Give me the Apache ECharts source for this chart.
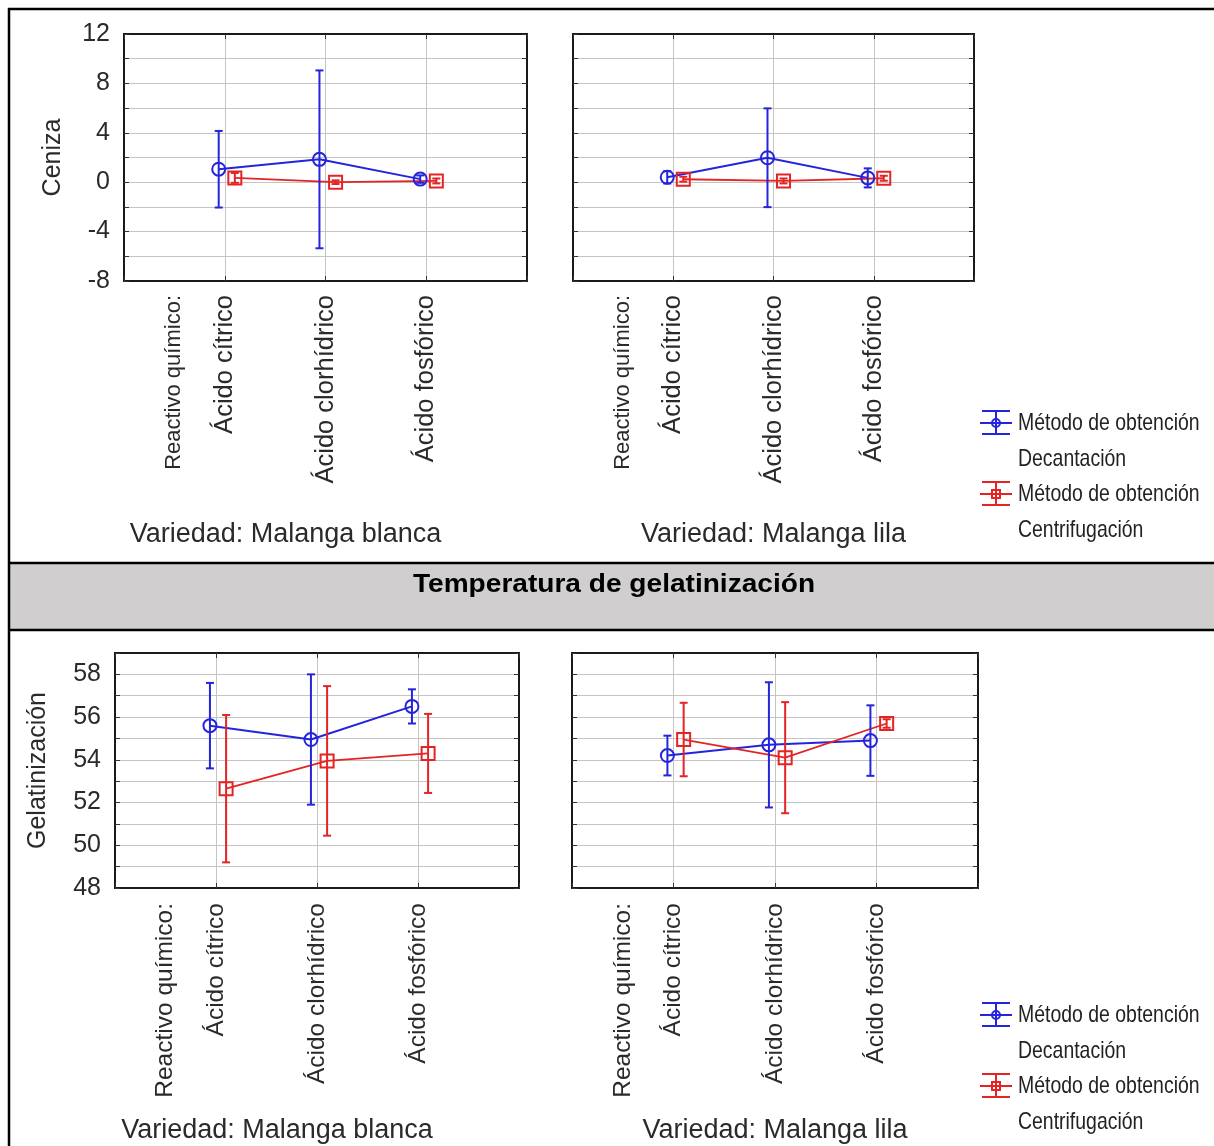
<!DOCTYPE html>
<html><head><meta charset="utf-8">
<script src="https://cdn.jsdelivr.net/npm/echarts@6/dist/echarts.min.js"></script>
<style>html,body{margin:0;padding:0;background:#fff}#c{width:1214px;height:1146px}</style>
</head><body><div id="c"></div>
<script>
// ---------- data ----------
const reactivos = ['Ácido cítrico', 'Ácido clorhídrico', 'Ácido fosfórico'];
const factorLabel = 'Reactivo químico:';
const variedades = ['Variedad: Malanga blanca', 'Variedad: Malanga lila'];
const metodoTitulo = 'Método de obtención';
const metodos = ['Decantación', 'Centrifugación'];
const yNames = ['Ceniza', 'Gelatinización'];
const sectionTitle = 'Temperatura de gelatinización';

const cenizaTickLabels = [-8, -4, 0, 4, 8, 12];
const gelTickLabels = [48, 50, 52, 54, 56, 58];

// Ceniza
const cenizaBlancaDecMean = [1.05, 1.85, 0.25];
const cenizaBlancaDecErr  = [3.1, 7.2, 0.3];
const cenizaBlancaCenMean = [0.35, 0.0, 0.1];
const cenizaBlancaCenErr  = [0.4, 0.15, 0.2];
const cenizaLilaDecMean = [0.4, 1.98, 0.35];
const cenizaLilaDecErr  = [0.5, 4.0, 0.77];
const cenizaLilaCenMean = [0.24, 0.1, 0.32];
const cenizaLilaCenErr  = [0.2, 0.2, 0.2];
// Gelatinización
const gelBlancaDecMean = [55.6, 54.95, 56.5];
const gelBlancaDecErr  = [2.0, 3.05, 0.8];
const gelBlancaCenMean = [52.65, 53.95, 54.3];
const gelBlancaCenErr  = [3.45, 3.5, 1.85];
const gelLilaDecMean = [54.2, 54.7, 54.9];
const gelLilaDecErr  = [0.93, 2.93, 1.65];
const gelLilaCenMean = [54.95, 54.1, 55.7];
const gelLilaCenErr  = [1.72, 2.6, 0.2];

// ---------- style ----------
const BLUE = '#2424dc';
const RED = '#e42424';
const FONT = "Liberation Sans";
const OFF_DEC = -0.06, OFF_CEN = 0.1;

const panels = [
  {grid: {left: 124, top: 34, width: 403, height: 247}, y: {min: -8, max: 12, interval: 2}, ticks: cenizaTickLabels,
   showY: true, yName: yNames[0], yGap: 58, xName: variedades[0], xGap: 240, xPad: 80, rSize: 22, aSize: 25.5, xMargin: 14,
   dec: [cenizaBlancaDecMean, cenizaBlancaDecErr], cen: [cenizaBlancaCenMean, cenizaBlancaCenErr]},
  {grid: {left: 573, top: 34, width: 401, height: 247}, y: {min: -8, max: 12, interval: 2}, ticks: cenizaTickLabels,
   showY: false, yName: '', yGap: 0, xName: variedades[1], xGap: 240, xPad: 0, rSize: 22, aSize: 25.5, xMargin: 14,
   dec: [cenizaLilaDecMean, cenizaLilaDecErr], cen: [cenizaLilaCenMean, cenizaLilaCenErr]},
  {grid: {left: 115, top: 653, width: 404, height: 235}, y: {min: 48, max: 59, interval: 1}, ticks: gelTickLabels,
   showY: true, yName: yNames[1], yGap: 64, xName: variedades[0], xGap: 229, xPad: 80, rSize: 24.5, aSize: 24.5, xMargin: 15,
   dec: [gelBlancaDecMean, gelBlancaDecErr], cen: [gelBlancaCenMean, gelBlancaCenErr]},
  {grid: {left: 572, top: 653, width: 406, height: 235}, y: {min: 48, max: 59, interval: 1}, ticks: gelTickLabels,
   showY: false, yName: '', yGap: 0, xName: variedades[1], xGap: 229, xPad: 0, rSize: 24.5, aSize: 24.5, xMargin: 15,
   dec: [gelLilaDecMean, gelLilaDecErr], cen: [gelLilaCenMean, gelLilaCenErr]}
];

function errRenderer(color) {
  return function (params, api) {
    const x = api.value(0), lo = api.value(1), hi = api.value(2);
    const p1 = api.coord([x, hi]), p2 = api.coord([x, lo]);
    const hw = 4;
    const style = {stroke: color, lineWidth: 2};
    return {type: 'group', children: [
      {type: 'line', shape: {x1: p1[0], y1: p1[1], x2: p2[0], y2: p2[1]}, style: style},
      {type: 'line', shape: {x1: p1[0] - hw, y1: p1[1], x2: p1[0] + hw, y2: p1[1]}, style: style},
      {type: 'line', shape: {x1: p2[0] - hw, y1: p2[1], x2: p2[0] + hw, y2: p2[1]}, style: style}
    ]};
  };
}

const grids = [], xAxes = [], yAxes = [], series = [];
const lineAx = {show: true, onZero: false, lineStyle: {color: '#1a1a1a', width: 2}};
panels.forEach((p, i) => {
  grids.push(Object.assign({show: true, borderColor: '#1a1a1a', borderWidth: 2, backgroundColor: '#fff'}, p.grid));
  const xi = xAxes.length;
  xAxes.push({
    type: 'value', gridIndex: i, min: 0, max: 4, interval: 1, position: 'bottom',
    axisLine: lineAx,
    axisTick: {show: true, inside: true, length: 5, lineStyle: {color: '#333'}},
    splitLine: {show: true, lineStyle: {color: '#c4c4c4', width: 1}},
    axisLabel: {
      show: true, rotate: 90, margin: p.xMargin, color: '#2a2a2a', fontFamily: FONT,
      customValues: [0.5, 1, 2, 3],
      formatter: v => (Math.abs(v - 0.5) < 1e-6 ? '{r|' + factorLabel + '}' : '{a|' + (reactivos[Math.round(v) - 1] || '') + '}'),
      rich: {
        r: {fontSize: p.rSize, fontFamily: FONT, color: '#2a2a2a'},
        a: {fontSize: p.aSize, fontFamily: FONT, color: '#2a2a2a'}
      }
    },
    name: p.xName, nameLocation: 'middle', nameGap: p.xGap,
    nameTextStyle: {fontSize: 27, color: '#2a2a2a', fontFamily: FONT, padding: [0, p.xPad, 0, 0]}
  });
  xAxes.push({
    type: 'value', gridIndex: i, min: 0, max: 4, interval: 1, position: 'top',
    axisLine: lineAx,
    axisTick: {show: true, inside: true, length: 5, lineStyle: {color: '#333'}},
    splitLine: {show: false}, axisLabel: {show: false}
  });
  const yi = yAxes.length;
  yAxes.push({
    type: 'value', gridIndex: i, min: p.y.min, max: p.y.max, interval: p.y.interval, position: 'left',
    axisLine: lineAx,
    axisTick: {show: true, inside: true, length: 5, lineStyle: {color: '#333'}},
    splitLine: {show: true, lineStyle: {color: '#c4c4c4', width: 1}},
    axisLabel: {
      show: p.showY, margin: 14, fontSize: 25, color: '#2a2a2a', fontFamily: FONT,
      showMinLabel: true, showMaxLabel: true,
      formatter: v => (p.ticks.indexOf(v) >= 0 ? String(v) : '')
    },
    name: p.yName, nameLocation: 'middle', nameGap: p.yGap, nameRotate: 90,
    nameTextStyle: {fontSize: 25, color: '#2a2a2a', fontFamily: FONT}
  });
  yAxes.push({
    type: 'value', gridIndex: i, min: p.y.min, max: p.y.max, interval: p.y.interval, position: 'right',
    axisLine: lineAx,
    axisTick: {show: true, inside: true, length: 5, lineStyle: {color: '#333'}},
    splitLine: {show: false}, axisLabel: {show: false}
  });

  const groups = [
    {m: p.dec, off: OFF_DEC, color: BLUE, symbol: 'circle', name: metodoTitulo + ' ' + metodos[0], lw: 2},
    {m: p.cen, off: OFF_CEN, color: RED, symbol: 'rect', name: metodoTitulo + ' ' + metodos[1], lw: 1.8}
  ];
  groups.forEach(g => {
    const means = g.m[0], errs = g.m[1];
    series.push({
      type: 'line', name: g.name, xAxisIndex: xi, yAxisIndex: yi,
      data: means.map((v, k) => [k + 1 + g.off, v]),
      symbol: g.symbol, symbolSize: 13, showSymbol: true,
      itemStyle: {color: 'rgba(255,255,255,0)', borderColor: g.color, borderWidth: 2},
      lineStyle: {color: g.color, width: g.lw},
      emphasis: {disabled: true}, animation: false, z: 3
    });
    series.push({
      type: 'custom', name: g.name, xAxisIndex: xi, yAxisIndex: yi,
      renderItem: errRenderer(g.color),
      encode: {x: 0, y: [1, 2]},
      data: means.map((v, k) => [k + 1 + g.off, v - errs[k], v + errs[k]]),
      animation: false, z: 4, silent: true
    });
  });
});

// legend drawn as graphic blocks
function legendIcon(cx, cy, color, marker) {
  const st = {stroke: color, lineWidth: 2};
  const kids = [
    {type: 'line', shape: {x1: cx - 14, y1: cy - 12, x2: cx + 14, y2: cy - 12}, style: st},
    {type: 'line', shape: {x1: cx - 16, y1: cy, x2: cx + 16, y2: cy}, style: st},
    {type: 'line', shape: {x1: cx - 14, y1: cy + 11, x2: cx + 14, y2: cy + 11}, style: st},
    {type: 'line', shape: {x1: cx, y1: cy - 12, x2: cx, y2: cy + 11}, style: st}
  ];
  if (marker === 'circle') kids.push({type: 'circle', shape: {cx: cx, cy: cy, r: 4}, style: {fill: 'none', stroke: color, lineWidth: 2}});
  else kids.push({type: 'rect', shape: {x: cx - 4, y: cy - 4, width: 8, height: 8}, style: {fill: 'none', stroke: color, lineWidth: 2}});
  return kids;
}
function legendBlock(baseY) {
  const txt = (t, y) => ({type: 'text', x: 1018, y: y, scaleX: 0.81, scaleY: 1, originX: 0, originY: 0,
    style: {text: t, fontSize: 24, fontFamily: FONT, fill: '#222', verticalAlign: 'middle', align: 'left'}});
  return [].concat(
    legendIcon(996, baseY, BLUE, 'circle'),
    [txt(metodoTitulo, baseY), txt(metodos[0], baseY + 36)],
    legendIcon(996, baseY + 71, RED, 'rect'),
    [txt(metodoTitulo, baseY + 71), txt(metodos[1], baseY + 107)]
  );
}

const graphics = [
  {type: 'rect', shape: {x: 9, y: 563, width: 1210, height: 67}, style: {fill: '#d0cece'}, z: -1},
  {type: 'line', shape: {x1: 8, y1: 9, x2: 1214, y2: 9}, style: {stroke: '#000', lineWidth: 2.5}},
  {type: 'line', shape: {x1: 9, y1: 8, x2: 9, y2: 1146}, style: {stroke: '#000', lineWidth: 2.5}},
  {type: 'line', shape: {x1: 8, y1: 563, x2: 1214, y2: 563}, style: {stroke: '#000', lineWidth: 2.5}},
  {type: 'line', shape: {x1: 8, y1: 630, x2: 1214, y2: 630}, style: {stroke: '#000', lineWidth: 2.5}},
  {type: 'text', x: 614, y: 585, scaleX: 1.08, scaleY: 1, originX: 0, originY: 0,
   style: {text: sectionTitle, fontSize: 26, fontWeight: 'bold', fontFamily: FONT, fill: '#000', align: 'center', verticalAlign: 'middle'}}
].concat(legendBlock(423), legendBlock(1015));

const chart = echarts.init(document.getElementById('c'), null, {renderer: 'canvas'});
chart.setOption({
  backgroundColor: '#fff',
  animation: false,
  grid: grids, xAxis: xAxes, yAxis: yAxes, series: series,
  graphic: graphics
});
</script></body></html>
